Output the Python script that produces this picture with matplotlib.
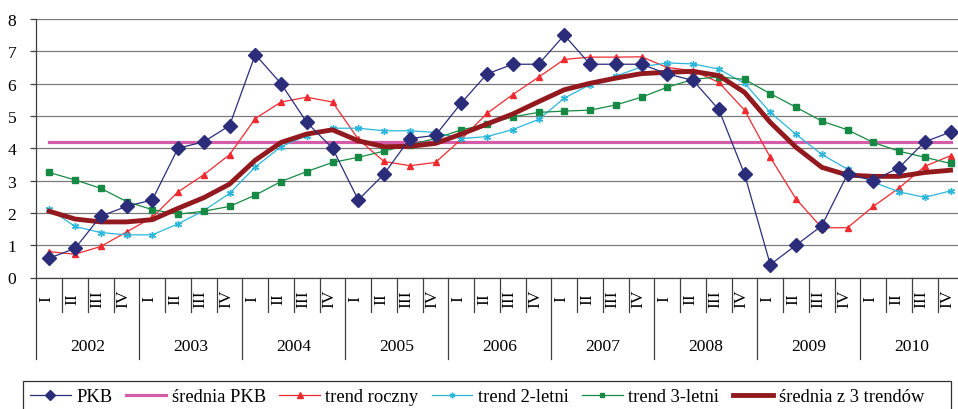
import matplotlib
matplotlib.use('Agg')
import matplotlib.pyplot as plt
import matplotlib.transforms as mtransforms
from matplotlib.lines import Line2D
from matplotlib.patches import Rectangle
import numpy as np

years = ['2002', '2003', '2004', '2005', '2006', '2007', '2008', '2009', '2010']
quarters = ['I', 'II', 'III', 'IV']

pkb = [0.6, 0.9, 1.9, 2.2, 2.4, 4.0, 4.2, 4.7, 6.9, 6.0, 4.8, 4.0,
       2.4, 3.2, 4.3, 4.4, 5.4, 6.3, 6.6, 6.6, 7.5, 6.6, 6.6, 6.6,
       6.3, 6.1, 5.2, 3.2, 0.4, 1.0, 1.6, 3.2, 3.0, 3.4, 4.2, 4.5]
srednia_pkb = 4.2
trend_roczny = [0.80, 0.72, 0.96, 1.41, 1.86, 2.65, 3.18, 3.80, 4.92, 5.43, 5.58, 5.43,
                4.28, 3.59, 3.46, 3.56, 4.28, 5.08, 5.66, 6.20, 6.75, 6.82, 6.82, 6.83,
                6.50, 6.40, 6.04, 5.18, 3.72, 2.43, 1.54, 1.54, 2.20, 2.77, 3.44, 3.77]
trend_2letni = [2.12, 1.58, 1.39, 1.32, 1.32, 1.66, 2.07, 2.60, 3.42, 4.05, 4.39, 4.62,
                4.62, 4.54, 4.54, 4.49, 4.30, 4.36, 4.58, 4.89, 5.55, 5.97, 6.23, 6.52,
                6.64, 6.61, 6.45, 6.01, 5.11, 4.43, 3.81, 3.35, 2.95, 2.65, 2.48, 2.68]
trend_3letni = [3.25, 3.02, 2.76, 2.35, 2.10, 1.96, 2.05, 2.20, 2.55, 2.97, 3.28, 3.56,
                3.72, 3.91, 4.11, 4.30, 4.57, 4.74, 4.97, 5.11, 5.15, 5.18, 5.34, 5.58,
                5.89, 6.13, 6.21, 6.13, 5.69, 5.27, 4.84, 4.57, 4.18, 3.91, 3.72, 3.53]
srednia_3 = [2.05, 1.81, 1.72, 1.72, 1.79, 2.14, 2.47, 2.89, 3.63, 4.18, 4.44, 4.57,
             4.23, 4.05, 4.06, 4.15, 4.44, 4.75, 5.06, 5.44, 5.81, 6.01, 6.17, 6.31,
             6.35, 6.38, 6.25, 5.73, 4.80, 4.03, 3.41, 3.17, 3.13, 3.13, 3.25, 3.32]
y_ticks = [0, 1, 2, 3, 4, 5, 6, 7, 8]

plt.rcParams['font.family'] = ['Liberation Serif', 'DejaVu Serif']
FS = 12.6
FS_LEG = 13.3

W, H = 958, 410
fig = plt.figure(figsize=(W / 100, H / 100), dpi=100)
n = len(pkb)
left_px, top_px, bottom_px = 36.4, 20, 278.5
cell = 25.75
ax = fig.add_axes([left_px / W, 1 - bottom_px / H, n * cell / W, (bottom_px - top_px) / H])

x = np.arange(n)
ax.plot(x, [srednia_pkb] * n, color='#D45CA8', lw=2.3, zorder=3, label='średnia PKB')
ax.plot(x, trend_roczny, color='#EE2A30', lw=0.9, marker='^', ms=5, zorder=4, label='trend roczny')
ax.plot(x, trend_2letni, color='#2AB6DA', lw=0.9, marker=(6, 2, 0), ms=5, mew=1.0, zorder=4,
        label='trend 2-letni')
ax.plot(x, trend_3letni, color='#168A44', lw=0.9, marker='s', ms=4, zorder=4, label='trend 3-letni')
ax.plot(x, srednia_3, color='#921A1E', lw=3.5, zorder=5, label='średnia z 3 trendów')
ax.plot(x, pkb, color='#2B2D7B', lw=0.9, marker='D', ms=7, zorder=6, label='PKB')

ax.set_xlim(-0.5, n - 0.5)
ax.set_ylim(0, 8)
ax.set_yticks(y_ticks)
ax.set_yticklabels([str(v) for v in y_ticks], fontsize=FS)
ax.set_xticks([])
ax.yaxis.grid(True, color='#7a7a7a', lw=0.9)
ax.set_axisbelow(True)
for s in ['top', 'right']:
    ax.spines[s].set_visible(False)
ax.spines['left'].set_color('#404040')
ax.spines['bottom'].set_color('#404040')
ax.spines['left'].set_linewidth(0.9)
ax.spines['bottom'].set_linewidth(0.9)
ax.tick_params(axis='y', direction='out', length=4.5, width=0.9, color='#404040', pad=10)

# category axis separators and labels
trans = mtransforms.blended_transform_factory(ax.transData, fig.transFigure)
y_axis = 1 - bottom_px / H
y_short = 1 - 313 / H
y_long = 1 - 360 / H
for k in range(n + 1):
    xs = k - 0.5
    yb = y_long if k % 4 == 0 else y_short
    fig.add_artist(Line2D([xs, xs], [y_axis, yb], transform=trans, color='#404040', lw=0.9,
                          clip_on=False))
off = mtransforms.ScaledTranslation(-3 / 100, 0, fig.dpi_scale_trans)
for i in range(n):
    ax.text(i, 1 - 299 / H, quarters[i % 4], transform=trans + off, rotation=90,
            ha='center', va='center', fontsize=FS)
for j, yr in enumerate(years):
    ax.text(4 * j + 1.5, 1 - 347 / H, yr, transform=trans, ha='center', va='center', fontsize=FS)

handles, labels = ax.get_legend_handles_labels()
order = [5, 0, 1, 2, 3, 4]
leg = fig.legend([handles[i] for i in order], [labels[i] for i in order],
                 loc='center left', bbox_to_anchor=(30 / W, 1 - 398 / H), ncol=6,
                 fontsize=FS_LEG, frameon=False, borderaxespad=0, borderpad=0,
                 handlelength=2.2, handletextpad=0.3, columnspacing=0.72,
                 markerscale=0.8)
fig.add_artist(Rectangle((23.3 / W, 1 - 440 / H), (951.3 - 23.3) / W, (440 - 382.3) / H,
                         transform=fig.transFigure, fill=False, ec='#303030', lw=0.9))

fig.savefig('out.png', dpi=100)
